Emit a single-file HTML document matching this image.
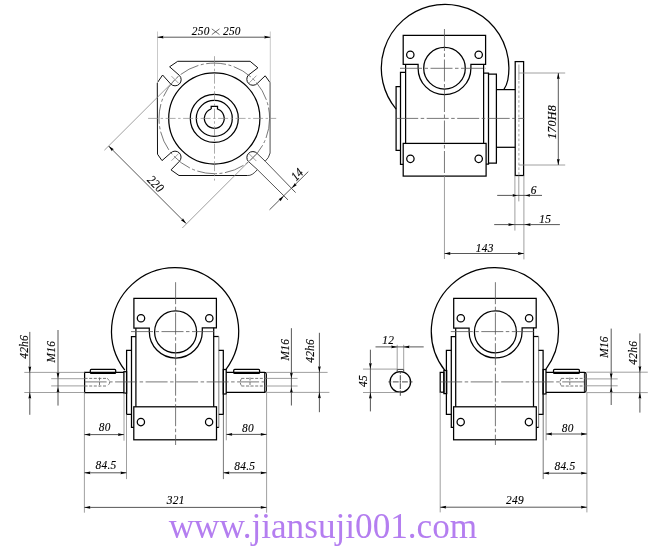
<!DOCTYPE html>
<html><head><meta charset="utf-8"><style>
html,body{margin:0;padding:0;background:#fff;}
svg{display:block;will-change:transform;}
.k{fill:none;stroke:#000;stroke-width:1.25;}
.k2{fill:none;stroke:#111;stroke-width:1.0;}
.k3{fill:none;stroke:#222;stroke-width:0.85;}
.kg{fill:none;stroke:#777;stroke-width:1.3;}
.kg2{fill:none;stroke:#888;stroke-width:1.1;}
.k1{fill:none;stroke:#000;stroke-width:0.9;}
.d{fill:none;stroke:#444;stroke-width:0.9;}
.e{fill:none;stroke:#888;stroke-width:0.8;}
.e2{fill:none;stroke:#555;stroke-width:0.8;}
.e3{fill:none;stroke:#bbb;stroke-width:0.8;}
.x{fill:none;stroke:#222;stroke-width:0.65;}
.c{fill:none;stroke:#555;stroke-width:0.8;stroke-dasharray:22 2.5 3.5 2.5;}
.cl{fill:none;stroke:#888;stroke-width:0.7;stroke-dasharray:10 2.5 2.5 2.5;}
.cs{fill:none;stroke:#333;stroke-width:0.9;}
.c2{fill:none;stroke:#555;stroke-width:0.8;stroke-dasharray:20 2.5 3 2.5;}
.h{fill:none;stroke:#666;stroke-width:0.9;stroke-dasharray:3 1.6;}
.h2{fill:none;stroke:#999;stroke-width:0.9;stroke-dasharray:2.6 2.2;}
.a{fill:#000;stroke:none;}
.tx{font-family:"Liberation Serif",serif;font-style:italic;fill:#000;stroke:#000;stroke-width:0.15;letter-spacing:0.3px;}
.wm{font-family:"Liberation Serif",serif;fill:#b47ef0;}
</style></head><body>
<svg width="650" height="547" viewBox="0 0 650 547">
<path class="k2" d="M179,175.5 L171,169.9 L179.4,161.3 A6.01,6.01 0 0 0 179.3,152.9 A6.01,6.01 0 0 0 170.7,153 L162,160.6 L157.5,154.2 L157.3,82.8 L162.6,75 L170.7,84 A6.12,6.12 0 0 0 179.38,84.03 A6.12,6.12 0 0 0 179.4,75.4 L169.6,66.8 L177.7,61.3 L250.1,61.3 L257.9,67.8 L248.4,75.1 A6.09,6.09 0 0 0 248.6,83.5 A6.09,6.09 0 0 0 257.4,83.3 L265.2,75.8 L270.1,82.6"/>
<line class="k2" x1="247.6" y1="175.5" x2="179" y2="175.5"/>
<line class="kg" x1="270.1" y1="82.6" x2="270.1" y2="153"/>
<path class="k3" d="M270.1,153 Q268.9,158 265.2,161.2"/>
<line class="k3" x1="265.2" y1="161.2" x2="257.2" y2="153.5"/>
<path class="k2" d="M257.2,153.5 A5.95,5.95 0 0 0 248.6,153.3 A5.95,5.95 0 0 0 248.4,161.5"/>
<line class="k3" x1="248.4" y1="161.5" x2="257.4" y2="169.6"/>
<path class="k3" d="M257.4,169.6 Q252.1,176 247.6,175.5"/>
<circle class="c2" cx="214.3" cy="118.4" r="55.3"/>
<circle class="k" cx="214.3" cy="118.4" r="45.6"/>
<circle class="k" cx="214.3" cy="118.4" r="24"/>
<circle class="k" cx="214.3" cy="118.4" r="18"/>
<path class="k" d="M211.2,109 L211.2,106.4 L217.5,106.4 L217.5,109.03 A9.9,9.9 0 1 1 211.2,109"/>
<line class="cl" x1="214.5" y1="56.2" x2="214.5" y2="180.6"/>
<line class="cl" x1="148.1" y1="118.4" x2="276.2" y2="118.4"/>
<line class="e" x1="249.26" y1="153.96" x2="256.34" y2="161.04"/>
<line class="e" x1="249.36" y1="82.74" x2="256.44" y2="75.66"/>
<line class="e" x1="178.59" y1="153.61" x2="171.51" y2="160.69"/>
<line class="e" x1="178.59" y1="83.24" x2="171.51" y2="76.16"/>
<line class="e3" x1="157.5" y1="31.5" x2="157.5" y2="83"/>
<line class="e3" x1="270.3" y1="31.5" x2="270.3" y2="82.5"/>
<line class="d" x1="157.5" y1="37.2" x2="270.3" y2="37.2"/>
<path class="a" d="M157.5,37.2 L163.5,35.8 L162.9,37.2 L163.5,38.6 Z"/>
<path class="a" d="M270.3,37.2 L264.3,38.6 L264.9,37.2 L264.3,35.8 Z"/>
<text class="tx" transform="translate(200.7,30.6) rotate(0) scale(0.88,1)" y="4.39" text-anchor="middle" font-size="12.9">250</text>
<text class="tx" transform="translate(231.9,30.6) rotate(0) scale(0.88,1)" y="4.39" text-anchor="middle" font-size="12.9">250</text>
<line class="x" x1="211.8" y1="28.9" x2="219.5" y2="34.6"/>
<line class="x" x1="219.5" y1="28.9" x2="211.8" y2="34.6"/>
<line class="e" x1="178.05" y1="76.7" x2="104.4" y2="150.2"/>
<line class="e" x1="255.8" y1="154.5" x2="182.3" y2="228"/>
<line class="d" x1="108.65" y1="146.05" x2="186.15" y2="223.55"/>
<path class="a" d="M108.65,146.05 L113.88,149.3 L112.47,149.87 L111.9,151.28 Z"/>
<path class="a" d="M186.15,223.55 L180.92,220.3 L182.33,219.73 L182.9,218.32 Z"/>
<text class="tx" transform="translate(155.8,183.8) rotate(45) scale(0.88,1)" y="4.39" text-anchor="middle" font-size="12.9">220</text>
<line class="d" x1="265.2" y1="161.2" x2="295.6" y2="192.6"/>
<line class="d" x1="257.4" y1="169.6" x2="288" y2="199.9"/>
<line class="d" x1="269.5" y1="209.8" x2="308.3" y2="171.6"/>
<path class="a" d="M291.7,188.3 L294.95,183.07 L295.52,184.48 L296.93,185.05 Z"/>
<path class="a" d="M283.8,196.1 L280.55,201.33 L279.98,199.92 L278.57,199.35 Z"/>
<text class="tx" transform="translate(297,174.3) rotate(-45) scale(0.88,1)" y="4.39" text-anchor="middle" font-size="12.9">14</text>
<path class="k" d="M396.1,109.06 A63.8,63.8 0 1 1 507.8,80 Q506.9,84.9 503.8,89.6"/>
<path class="k" d="M403.2,64.3 L403.2,35.3 L485.6,35.3 L485.6,64.3 L470.9,64.3 L470.9,68.2 A26.4,26.4 0 0 1 418.1,68.2 L418.1,64.3 Z"/>
<circle class="k" cx="444.5" cy="68.2" r="20.8"/>
<circle class="k" cx="410.3" cy="54.7" r="3.7"/>
<circle class="k" cx="478.7" cy="54.7" r="3.7"/>
<line class="k" x1="405.6" y1="64.3" x2="405.6" y2="143.4"/>
<line class="k" x1="483.6" y1="64.3" x2="483.6" y2="143.4"/>
<rect class="k" x="403.2" y="143.4" width="82.9" height="32.7"/>
<circle class="k" cx="410.4" cy="158.8" r="3.7"/>
<circle class="k" cx="478.7" cy="158.8" r="3.7"/>
<path class="k" d="M403.2,164.4 L400.5,164.4 L400.5,72.4 L405.6,72.4"/>
<path class="k" d="M400.5,150.3 L396.1,150.3 L396.1,86.6 L400.5,86.6"/>
<path class="k" d="M483.6,73.2 L488.5,73.2 L488.5,164.2 L486.1,164.2"/>
<path class="k" d="M488.5,74.2 L496.4,74.2 L496.4,163 L488.5,163"/>
<line class="k" x1="496.4" y1="89.6" x2="515.2" y2="89.6"/>
<line class="k" x1="496.4" y1="147.3" x2="515.2" y2="147.3"/>
<rect class="k" x="515.2" y="61.6" width="8.4" height="113.9"/>
<line class="e" x1="518.9" y1="64.5" x2="518.9" y2="80"/>
<line class="h2" x1="518.9" y1="81" x2="518.9" y2="175"/>
<line class="c" x1="444.45" y1="29" x2="444.45" y2="176"/>
<line class="e" x1="444.45" y1="176" x2="444.45" y2="259"/>
<line class="c" x1="400" y1="68.3" x2="486" y2="68.3"/>
<line class="c" x1="396.2" y1="118.4" x2="524.2" y2="118.4"/>
<line class="e" x1="518.8" y1="73" x2="565.2" y2="73"/>
<line class="e" x1="518.8" y1="165" x2="565.2" y2="165"/>
<line class="d" x1="558.3" y1="73" x2="558.3" y2="165"/>
<path class="a" d="M558.3,73 L559.7,79 L558.3,78.4 L556.9,79 Z"/>
<path class="a" d="M558.3,165 L556.9,159 L558.3,159.6 L559.7,159 Z"/>
<text class="tx" transform="translate(551.1,122) rotate(-90) scale(0.93,1)" y="4.39" text-anchor="middle" font-size="12.9">170H8</text>
<line class="e" x1="514.9" y1="175.5" x2="514.9" y2="230.6"/>
<line class="e" x1="518.8" y1="175.5" x2="518.8" y2="201.4"/>
<line class="e" x1="523.9" y1="175.5" x2="523.9" y2="259.4"/>
<line class="d" x1="497.2" y1="195.4" x2="542" y2="195.4"/>
<path class="a" d="M517.2,195.4 L512.6,196.8 L513.06,195.4 L512.6,194 Z"/>
<path class="a" d="M525.3,195.4 L530.1,194 L529.62,195.4 L530.1,196.8 Z"/>
<text class="tx" transform="translate(533.7,189.3) rotate(0) scale(0.88,1)" y="4.39" text-anchor="middle" font-size="12.9">6</text>
<line class="d" x1="494.2" y1="224.6" x2="559.9" y2="224.6"/>
<path class="a" d="M514.3,224.6 L508.3,226 L508.9,224.6 L508.3,223.2 Z"/>
<path class="a" d="M524.6,224.6 L530.6,223.2 L530,224.6 L530.6,226 Z"/>
<text class="tx" transform="translate(545.2,218.8) rotate(0) scale(0.88,1)" y="4.39" text-anchor="middle" font-size="12.9">15</text>
<line class="d" x1="444.45" y1="253.5" x2="523.9" y2="253.5"/>
<path class="a" d="M444.45,253.5 L450.45,252.1 L449.85,253.5 L450.45,254.9 Z"/>
<path class="a" d="M523.9,253.5 L517.9,254.9 L518.5,253.5 L517.9,252.1 Z"/>
<text class="tx" transform="translate(484.7,247.3) rotate(0) scale(0.88,1)" y="4.39" text-anchor="middle" font-size="12.9">143</text>
<path class="k" d="M124.8,370.12 A63.6,63.6 0 1 1 226,369.33"/>
<path class="k" d="M133.9,328.2 L133.9,298.3 L216.4,298.3 L216.4,327.8 L202.3,327.8 L202.3,331.5 A26.5,26.5 0 0 1 149.3,331.5 L149.3,328.2 Z"/>
<circle class="k" cx="175.6" cy="331.9" r="21"/>
<circle class="k" cx="141" cy="318.2" r="3.7"/>
<circle class="k" cx="209.3" cy="318.2" r="3.7"/>
<line class="k" x1="135.9" y1="328.2" x2="135.9" y2="406.8"/>
<line class="k" x1="213.7" y1="327.8" x2="213.7" y2="406.8"/>
<rect class="k" x="133.8" y="406.8" width="82.7" height="33"/>
<circle class="k" cx="140.9" cy="422.1" r="3.65"/>
<circle class="k" cx="209.1" cy="422.1" r="3.65"/>
<path class="k" d="M133.8,427.4 L131.5,427.4 L131.5,336.5 L135.9,336.5"/>
<path class="k" d="M131.5,414.3 L126.6,414.3 L126.6,350.3 L131.5,350.3"/>
<line class="k" x1="213.7" y1="336.5" x2="218.8" y2="336.5"/>
<line class="kg2" x1="218.8" y1="336.5" x2="218.8" y2="427.4"/>
<line class="k" x1="218.8" y1="427.4" x2="216.5" y2="427.4"/>
<path class="k" d="M218.8,350.3 L223.3,350.3 L223.3,414.4 L218.8,414.4"/>
<rect class="k" x="223.3" y="369.5" width="2.9" height="24.5"/>
<path class="k" d="M226.2,372.4 L264.6,372.4 Q266.3,372.4 266.3,374.2 L266.3,390.6 Q266.3,392.4 264.6,392.4 L226.2,392.4"/>
<line class="k1" x1="264.6" y1="372.4" x2="264.6" y2="392.4"/>
<rect class="k" x="233.7" y="369.4" width="25.9" height="4" rx="1"/>
<line class="h" x1="241.4" y1="378.4" x2="266" y2="378.4"/>
<line class="h" x1="241.4" y1="386" x2="266" y2="386"/>
<path class="h" d="M241.6,378.4 Q239,382.2 241.6,386"/>
<line class="h" x1="250" y1="377.5" x2="250" y2="387"/>
<rect class="k" x="123.9" y="371.7" width="2.7" height="21.4"/>
<path class="k" d="M123.9,372.3 L84.6,372.3 L84.6,392.5 L123.9,392.5"/>
<rect class="k" x="90.3" y="369.4" width="25.4" height="4" rx="1"/>
<line class="h" x1="84.6" y1="378.4" x2="107.2" y2="378.4"/>
<line class="h" x1="84.6" y1="386" x2="107.2" y2="386"/>
<path class="h" d="M107.2,378.4 Q112.2,382.2 107.2,386"/>
<line class="h" x1="99.5" y1="377.5" x2="99.5" y2="387"/>
<line class="c" x1="175.6" y1="282.2" x2="175.6" y2="445"/>
<line class="c" x1="131" y1="331.6" x2="216.6" y2="331.6"/>
<line class="c" x1="84.6" y1="381.9" x2="266.3" y2="381.9"/>
<path class="k" d="M445,370.63 A63.6,63.6 0 1 1 545.8,369.33"/>
<path class="k" d="M453.7,328.2 L453.7,298.3 L536.2,298.3 L536.2,327.8 L522.1,327.8 L522.1,331.5 A26.5,26.5 0 0 1 469.1,331.5 L469.1,328.2 Z"/>
<circle class="k" cx="495.4" cy="331.9" r="21"/>
<circle class="k" cx="460.8" cy="318.2" r="3.7"/>
<circle class="k" cx="529.1" cy="318.2" r="3.7"/>
<line class="k" x1="455.7" y1="328.2" x2="455.7" y2="406.8"/>
<line class="k" x1="533.5" y1="327.8" x2="533.5" y2="406.8"/>
<rect class="k" x="453.6" y="406.8" width="82.7" height="33"/>
<circle class="k" cx="460.7" cy="422.1" r="3.65"/>
<circle class="k" cx="528.9" cy="422.1" r="3.65"/>
<path class="k" d="M453.6,427.4 L451.3,427.4 L451.3,336.5 L455.7,336.5"/>
<path class="k" d="M451.3,414.3 L446.4,414.3 L446.4,350.3 L451.3,350.3"/>
<line class="k" x1="533.5" y1="336.5" x2="538.6" y2="336.5"/>
<line class="kg2" x1="538.6" y1="336.5" x2="538.6" y2="427.4"/>
<line class="k" x1="538.6" y1="427.4" x2="536.3" y2="427.4"/>
<path class="k" d="M538.6,350.3 L543.1,350.3 L543.1,414.4 L538.6,414.4"/>
<rect class="k" x="543.1" y="369.5" width="2.9" height="24.5"/>
<path class="k" d="M546,372.4 L584.4,372.4 Q586.1,372.4 586.1,374.2 L586.1,390.6 Q586.1,392.4 584.4,392.4 L546,392.4"/>
<line class="k1" x1="584.4" y1="372.4" x2="584.4" y2="392.4"/>
<rect class="k" x="553.5" y="369.4" width="25.9" height="4" rx="1"/>
<line class="h" x1="561.2" y1="378.4" x2="585.8" y2="378.4"/>
<line class="h" x1="561.2" y1="386" x2="585.8" y2="386"/>
<path class="h" d="M561.4,378.4 Q558.8,382.2 561.4,386"/>
<line class="h" x1="569.8" y1="377.5" x2="569.8" y2="387"/>
<rect class="k" x="443.9" y="370.5" width="2.8" height="23.1"/>
<rect class="k" x="440.2" y="372.4" width="3.7" height="19.8"/>
<line class="c" x1="495.4" y1="282.2" x2="495.4" y2="445"/>
<line class="c" x1="450.8" y1="331.6" x2="536.4" y2="331.6"/>
<line class="c" x1="440.2" y1="381.9" x2="586.1" y2="381.9"/>
<line class="e" x1="24.3" y1="372.4" x2="84.6" y2="372.4"/>
<line class="e" x1="24.3" y1="392.5" x2="84.6" y2="392.5"/>
<line class="e" x1="51.2" y1="378.7" x2="84.6" y2="378.7"/>
<line class="e" x1="51.2" y1="385.9" x2="84.6" y2="385.9"/>
<line class="d" x1="29.8" y1="331.9" x2="29.8" y2="414.8"/>
<path class="a" d="M29.8,372.4 L28.4,366.4 L29.8,367 L31.2,366.4 Z"/>
<path class="a" d="M29.8,392.5 L31.2,398.5 L29.8,397.9 L28.4,398.5 Z"/>
<line class="d" x1="58" y1="330" x2="58" y2="405.6"/>
<path class="a" d="M58,378.3 L56.6,372.8 L58,373.35 L59.4,372.8 Z"/>
<path class="a" d="M58,387.3 L59.4,392.3 L58,391.8 L56.6,392.3 Z"/>
<text class="tx" transform="translate(23.4,346.9) rotate(-90) scale(0.88,1)" y="4.39" text-anchor="middle" font-size="12.9">42h6</text>
<text class="tx" transform="translate(50.4,351.7) rotate(-90) scale(0.88,1)" y="4.39" text-anchor="middle" font-size="12.9">M16</text>
<line class="e" x1="266.3" y1="372.4" x2="327.6" y2="372.4"/>
<line class="e" x1="266.3" y1="392.4" x2="329.4" y2="392.4"/>
<line class="e" x1="266.3" y1="378.4" x2="297.6" y2="378.4"/>
<line class="e" x1="266.3" y1="386" x2="297.6" y2="386"/>
<line class="d" x1="291.4" y1="328.2" x2="291.4" y2="405.5"/>
<path class="a" d="M291.4,378.2 L290,372.7 L291.4,373.25 L292.8,372.7 Z"/>
<path class="a" d="M291.4,387.4 L292.8,392.4 L291.4,391.9 L290,392.4 Z"/>
<line class="d" x1="319.4" y1="332.8" x2="319.4" y2="412.2"/>
<path class="a" d="M319.4,372.3 L318,366.3 L319.4,366.9 L320.8,366.3 Z"/>
<path class="a" d="M319.4,392.3 L320.8,398.3 L319.4,397.7 L318,398.3 Z"/>
<text class="tx" transform="translate(284.6,349.7) rotate(-90) scale(0.88,1)" y="4.39" text-anchor="middle" font-size="12.9">M16</text>
<text class="tx" transform="translate(310,350.9) rotate(-90) scale(0.88,1)" y="4.39" text-anchor="middle" font-size="12.9">42h6</text>
<line class="e" x1="84.4" y1="392.5" x2="84.4" y2="512.7"/>
<line class="e" x1="266.6" y1="392.4" x2="266.6" y2="512.7"/>
<line class="e" x1="124" y1="393.1" x2="124" y2="440.7"/>
<line class="e" x1="126.5" y1="414.3" x2="126.5" y2="479.1"/>
<line class="e" x1="226.3" y1="394" x2="226.3" y2="440.3"/>
<line class="e2" x1="223.4" y1="414.4" x2="223.4" y2="479.1"/>
<line class="d" x1="84.4" y1="434.6" x2="124" y2="434.6"/>
<path class="a" d="M84.4,434.6 L90.4,433.2 L89.8,434.6 L90.4,436 Z"/>
<path class="a" d="M124,434.6 L118,436 L118.6,434.6 L118,433.2 Z"/>
<text class="tx" transform="translate(104.8,426.2) rotate(0) scale(0.88,1)" y="4.39" text-anchor="middle" font-size="12.9">80</text>
<line class="d" x1="84.4" y1="472.8" x2="126.5" y2="472.8"/>
<path class="a" d="M84.4,472.8 L90.4,471.4 L89.8,472.8 L90.4,474.2 Z"/>
<path class="a" d="M126.5,472.8 L120.5,474.2 L121.1,472.8 L120.5,471.4 Z"/>
<text class="tx" transform="translate(106,464.5) rotate(0) scale(0.88,1)" y="4.39" text-anchor="middle" font-size="12.9">84.5</text>
<line class="d" x1="226.3" y1="434.4" x2="266.6" y2="434.4"/>
<path class="a" d="M226.3,434.4 L232.3,433 L231.7,434.4 L232.3,435.8 Z"/>
<path class="a" d="M266.6,434.4 L260.6,435.8 L261.2,434.4 L260.6,433 Z"/>
<text class="tx" transform="translate(248,427.7) rotate(0) scale(0.88,1)" y="4.39" text-anchor="middle" font-size="12.9">80</text>
<line class="d" x1="223.4" y1="472.8" x2="266.6" y2="472.8"/>
<path class="a" d="M223.4,472.8 L229.4,471.4 L228.8,472.8 L229.4,474.2 Z"/>
<path class="a" d="M266.6,472.8 L260.6,474.2 L261.2,472.8 L260.6,471.4 Z"/>
<text class="tx" transform="translate(244.8,465.8) rotate(0) scale(0.88,1)" y="4.39" text-anchor="middle" font-size="12.9">84.5</text>
<line class="d" x1="84.4" y1="507.4" x2="266.6" y2="507.4"/>
<path class="a" d="M84.4,507.4 L90.4,506 L89.8,507.4 L90.4,508.8 Z"/>
<path class="a" d="M266.6,507.4 L260.6,508.8 L261.2,507.4 L260.6,506 Z"/>
<text class="tx" transform="translate(175.7,499.5) rotate(0) scale(0.88,1)" y="4.39" text-anchor="middle" font-size="12.9">321</text>
<line class="e" x1="440.2" y1="392.2" x2="440.2" y2="512.4"/>
<line class="e" x1="586.9" y1="392.4" x2="586.9" y2="512.4"/>
<line class="e" x1="546.1" y1="394" x2="546.1" y2="440.3"/>
<line class="e2" x1="543.2" y1="414.4" x2="543.2" y2="479.1"/>
<line class="d" x1="546.1" y1="434" x2="586.9" y2="434"/>
<path class="a" d="M546.1,434 L552.1,432.6 L551.5,434 L552.1,435.4 Z"/>
<path class="a" d="M586.9,434 L580.9,435.4 L581.5,434 L580.9,432.6 Z"/>
<text class="tx" transform="translate(567.8,427.6) rotate(0) scale(0.88,1)" y="4.39" text-anchor="middle" font-size="12.9">80</text>
<line class="d" x1="543.2" y1="473.2" x2="586.9" y2="473.2"/>
<path class="a" d="M543.2,473.2 L549.2,471.8 L548.6,473.2 L549.2,474.6 Z"/>
<path class="a" d="M586.9,473.2 L580.9,474.6 L581.5,473.2 L580.9,471.8 Z"/>
<text class="tx" transform="translate(564.9,465.9) rotate(0) scale(0.88,1)" y="4.39" text-anchor="middle" font-size="12.9">84.5</text>
<line class="d" x1="440.2" y1="507.2" x2="586.9" y2="507.2"/>
<path class="a" d="M440.2,507.2 L446.2,505.8 L445.6,507.2 L446.2,508.6 Z"/>
<path class="a" d="M586.9,507.2 L580.9,508.6 L581.5,507.2 L580.9,505.8 Z"/>
<text class="tx" transform="translate(515,499.6) rotate(0) scale(0.88,1)" y="4.39" text-anchor="middle" font-size="12.9">249</text>
<line class="e" x1="586.4" y1="372.2" x2="647.8" y2="372.2"/>
<line class="e" x1="586.4" y1="392.6" x2="647.8" y2="392.6"/>
<line class="e" x1="586.4" y1="378.9" x2="617.7" y2="378.9"/>
<line class="e" x1="586.4" y1="385.8" x2="617.7" y2="385.8"/>
<line class="d" x1="611.2" y1="328.6" x2="611.2" y2="405"/>
<path class="a" d="M611.2,378.7 L609.8,373.2 L611.2,373.75 L612.6,373.2 Z"/>
<path class="a" d="M611.2,387.2 L612.6,392.2 L611.2,391.7 L609.8,392.2 Z"/>
<line class="d" x1="639.9" y1="333.4" x2="639.9" y2="412.6"/>
<path class="a" d="M639.9,372.2 L638.5,366.2 L639.9,366.8 L641.3,366.2 Z"/>
<path class="a" d="M639.9,392.6 L641.3,398.6 L639.9,398 L638.5,398.6 Z"/>
<text class="tx" transform="translate(603.6,347) rotate(-90) scale(0.88,1)" y="4.39" text-anchor="middle" font-size="12.9">M16</text>
<text class="tx" transform="translate(632.4,352.8) rotate(-90) scale(0.88,1)" y="4.39" text-anchor="middle" font-size="12.9">42h6</text>
<circle class="k" cx="400.3" cy="381.9" r="10.3"/>
<path class="k3" d="M397.2,371.6 L397.2,369.4 L403.7,369.4 L403.7,371.6"/>
<line class="cs" x1="388.4" y1="381.9" x2="391.3" y2="381.9"/>
<line class="cs" x1="392.8" y1="381.9" x2="398.7" y2="381.9"/>
<line class="cs" x1="399.7" y1="381.9" x2="401" y2="381.9"/>
<line class="cs" x1="402" y1="381.9" x2="407.8" y2="381.9"/>
<line class="cs" x1="409.3" y1="381.9" x2="412.5" y2="381.9"/>
<line class="cs" x1="400.3" y1="371" x2="400.3" y2="373.8"/>
<line class="cs" x1="400.3" y1="375.2" x2="400.3" y2="380.7"/>
<line class="cs" x1="400.3" y1="381.3" x2="400.3" y2="382.5"/>
<line class="cs" x1="400.3" y1="383.2" x2="400.3" y2="389"/>
<line class="cs" x1="400.3" y1="390.5" x2="400.3" y2="395.8"/>
<line class="e" x1="397.2" y1="344.8" x2="397.2" y2="369.4"/>
<line class="e" x1="403.7" y1="344.8" x2="403.7" y2="369.4"/>
<line class="d" x1="375.5" y1="346.9" x2="423.7" y2="346.9"/>
<path class="a" d="M397.2,346.9 L391.2,348.3 L391.8,346.9 L391.2,345.5 Z"/>
<path class="a" d="M403.5,346.9 L409.5,345.5 L408.9,346.9 L409.5,348.3 Z"/>
<text class="tx" transform="translate(388.2,339.7) rotate(0) scale(0.88,1)" y="4.39" text-anchor="middle" font-size="12.9">12</text>
<line class="e" x1="363" y1="369.1" x2="397.2" y2="369.1"/>
<line class="e" x1="363" y1="392.5" x2="400.2" y2="392.5"/>
<line class="d" x1="370.4" y1="349.7" x2="370.4" y2="411.4"/>
<path class="a" d="M370.4,369.1 L369,363.1 L370.4,363.7 L371.8,363.1 Z"/>
<path class="a" d="M370.4,392.5 L371.8,398.5 L370.4,397.9 L369,398.5 Z"/>
<text class="tx" transform="translate(362.7,381) rotate(-90) scale(0.88,1)" y="4.39" text-anchor="middle" font-size="12.9">45</text>
<text class="wm" x="168.7" y="537.6" font-size="35.2">www.jiansuji001.com</text>
</svg>
</body></html>
